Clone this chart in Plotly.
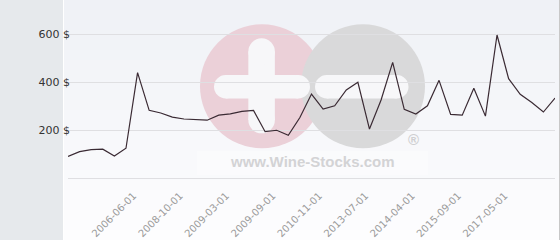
import plotly.graph_objects as go

# ---- data ----
values = [90, 110, 118, 120, 92, 124, 439, 282, 271, 254, 246, 244, 241, 262, 267,
          278, 282, 193, 199, 178, 252, 350, 287, 301, 367, 399, 204, 325, 482, 286,
          267, 301, 407, 265, 262, 374, 258, 596, 414, 349, 315, 275, 333]
tick_positions = [6, 10, 14, 18, 22, 26, 30, 34, 38]
tick_labels = ["2006-06-01", "2008-10-01", "2009-03-01", "2009-09-01", "2010-11-01",
               "2013-07-01", "2014-04-01", "2015-09-01", "2017-05-01"]
y_ticks = [0, 200, 400, 600]
y_tick_labels = ["", "200 $", "400 $", "600 $"]

W, H = 560, 240
L, R, T, B = 68, 5, 0, 62
PW, PH = W - L - R, H - T - B


def px(x):
    return (x - L) / PW


def py(y):
    return (T + PH - y) / PH


shapes = []
# left panel
shapes.append(dict(type="rect", xref="paper", yref="paper", x0=px(0), x1=px(63),
                   y0=py(240), y1=py(0), fillcolor="#e6e9ec", line_width=0, layer="below"))
# gradient background bands
n = 24
top = (239, 241, 246)
bot = (253, 253, 254)
for i in range(n):
    t = i / (n - 1)
    c = tuple(round(top[k] + (bot[k] - top[k]) * t) for k in range(3))
    y0 = 240 * i / n
    y1 = 240 * (i + 1) / n + 0.5
    shapes.append(dict(type="rect", xref="paper", yref="paper", x0=px(64), x1=px(559),
                       y0=py(y1), y1=py(y0), fillcolor="rgb(%d,%d,%d)" % c,
                       line_width=0, layer="below"))
# right border
shapes.append(dict(type="line", xref="paper", yref="paper", x0=px(559.5), x1=px(559.5),
                   y0=py(240), y1=py(0), line=dict(color="#c8c8c8", width=1), layer="below"))

# watermark
def circ(cx, cy, r, color):
    return dict(type="circle", xref="paper", yref="paper", x0=px(cx - r), x1=px(cx + r),
                y0=py(cy + r), y1=py(cy - r), fillcolor=color, line_width=0, layer="below")


def rect(x0, y0, x1, y1, color, op=1):
    return dict(type="rect", xref="paper", yref="paper", x0=px(x0), x1=px(x1),
                y0=py(y1), y1=py(y0), fillcolor=color, line_width=0, layer="below", opacity=op)


def hbar(x0, x1, yc, h, color):
    r = h / 2
    return [rect(x0 + r, yc - r, x1 - r, yc + r, color), circ(x0 + r, yc, r, color),
            circ(x1 - r, yc, r, color)]


def vbar(xc, y0, y1, w, color):
    r = w / 2
    return [rect(xc - r, y0 + r, xc + r, y1 - r, color), circ(xc, y0 + r, r, color),
            circ(xc, y1 - r, r, color)]


shapes.append(rect(197, 151, 428, 175, "#ffffff", 0.3))
shapes.append(circ(262, 86.3, 62, "#ebd0d8"))
shapes.append(circ(363, 86.3, 62, "#d9d9da"))
white = "#f7f7f9"
shapes += hbar(214, 310, 86.7, 23.5, white)
shapes += vbar(261.6, 38.3, 133.3, 26.5, white)
shapes += hbar(315, 408.5, 86.7, 23.5, white)

fig = go.Figure()
fig.add_trace(go.Scatter(x=list(range(len(values))), y=values, mode="lines",
                         line=dict(color="#3a2a33", width=1.2), hoverinfo="skip"))

fig.update_layout(
    width=W, height=H,
    margin=dict(l=L, r=R, t=T, b=B),
    paper_bgcolor="#ffffff",
    plot_bgcolor="rgba(0,0,0,0)",
    showlegend=False,
    shapes=shapes,
    annotations=[
        dict(xref="paper", yref="paper", x=px(312), y=py(161), xanchor="center",
             yanchor="middle", text="www.Wine-Stocks.com",
             showarrow=False, font=dict(family="Liberation Sans", size=15, color="#d3d3d5",
                                        weight="bold")),
        dict(xref="paper", yref="paper", x=px(413), y=py(139.5), xanchor="center",
             yanchor="middle", text="®",
             showarrow=False, font=dict(family="Liberation Sans", size=15, color="#cfcfd1",
                                        weight="bold")),
    ],
    xaxis=dict(range=[0, len(values) - 1], tickvals=tick_positions, ticktext=tick_labels,
               tickangle=-45, showgrid=False, zeroline=False, showline=True,
               linecolor="#dfdfe2", linewidth=1, ticks="",
               ticklabelstandoff=7, ticklabelshift=-4,
               tickfont=dict(family="DejaVu Sans", size=10, color="#9a9a9a"), fixedrange=True),
    yaxis=dict(range=[0, 742], tickvals=y_ticks, ticktext=y_tick_labels, showgrid=True,
               gridcolor="#dfdfe2", gridwidth=1, zeroline=False, showline=False, ticks="",
               ticklabelstandoff=-3,
               tickfont=dict(family="DejaVu Sans", size=11, color="#333333"), fixedrange=True),
)

fig.write_html("out.html")
